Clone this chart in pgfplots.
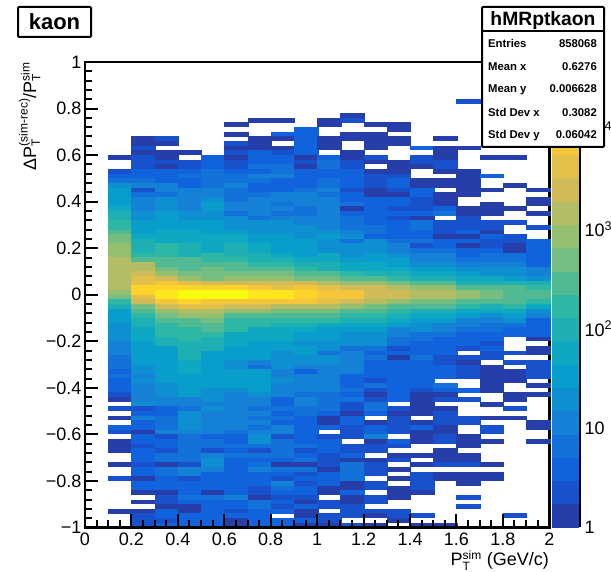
\documentclass[border=0pt]{standalone}
\usepackage{fontspec}
\setmainfont{Liberation Sans}
\usepackage{pgfplots}
\usepackage{pgfplotstable}
\pgfplotsset{compat=1.18}
% one line per PT bin (x centre), then counts for the 100 DeltaPT/PT bins from the top (0.99) to the bottom (-0.99)
\pgfplotstableread[header=false]{
0.15 0 0 0 0 0 0 0 0 0 0  0 0 0 0 0 0 0 0 0 0  1 0 0 2 4 6 17 30 30 30  30 50 90 90 150 150 250 450 450 800  800 800 1400 1400 1400 1400 1400 1400 1400 800  450 150 90 30 30 30 17 17 17 17  10 10 10 6 6 6 4 6 4 4  4 2 1 0 2 0 1 0 4 2  0 1 1 1 0 0 1 0 0 2  0 0 0 0 0 0 1 0 0 0
0.25 0 0 0 0 0 0 0 0 0 0  0 0 0 0 0 0 1 1 2 1  2 2 2 4 4 6 10 2 6 10  10 10 17 17 30 30 30 50 90 90  90 150 250 1400 1400 2400 4200 4200 13000 13000  4200 2400 450 250 150 90 90 50 50 50  30 30 30 30 30 17 17 10 17 10  10 10 10 17 2 4 10 4 4 1  4 4 2 4 4 4 2 4 4 1  4 4 1 0 1 0 1 2 2 2
0.35 0 0 0 0 0 0 0 0 0 0  0 0 0 0 0 0 2 1 0 1  1 2 1 4 4 4 10 10 6 17  17 17 30 30 30 30 50 50 50 150  150 150 250 250 450 800 2400 7500 13000 22000  22000 7500 2400 800 450 250 150 150 150 90  90 30 30 30 30 30 30 30 30 17  17 17 10 10 4 4 6 6 6 10  2 4 4 2 6 6 1 6 6 4  4 4 1 2 2 1 4 4 2 4
0.45 0 0 0 0 0 0 0 0 0 0  0 0 0 0 0 0 0 0 0 1  0 2 2 4 6 4 4 10 10 10  10 10 17 17 30 30 50 50 50 90  90 90 250 250 250 450 800 4200 13000 40000  40000 13000 4200 1400 800 250 250 150 150 150  90 90 90 90 50 50 50 30 30 30  30 30 10 10 6 17 17 17 17 10  6 6 6 6 6 6 2 10 10 2  4 4 4 6 4 1 1 4 4 4
0.55 0 0 0 0 0 0 0 0 0 0  0 0 0 0 0 0 0 0 0 0  4 4 4 6 6 6 6 10 10 17  30 30 17 17 30 30 30 50 50 50  50 150 150 250 450 450 450 2400 13000 40000  40000 7500 4200 1400 800 450 250 250 150 90  90 90 30 30 30 30 30 30 30 30  17 17 17 10 17 10 10 10 10 10  4 6 6 2 10 17 17 10 4 4  4 4 1 6 4 4 4 4 4 4
0.65 0 0 0 0 0 0 0 0 0 0  0 0 0 1 0 1 0 2 1 2  1 2 2 4 6 6 10 6 6 6  10 10 6 17 17 17 30 50 50 90  90 90 150 250 250 450 800 2400 13000 40000  40000 7500 2400 800 250 150 150 150 50 50  50 30 30 30 17 17 30 30 30 30  17 10 10 10 10 10 10 10 10 6  4 4 6 4 6 4 4 4 4 4  4 4 4 10 4 4 2 4 1 1
0.75 0 0 0 0 0 0 0 0 0 0  0 0 1 0 0 0 1 1 1 4  4 4 6 4 10 6 4 4 6 10  10 10 10 6 17 17 17 30 30 50  50 90 90 150 250 450 800 2400 7500 22000  22000 7500 2400 800 250 150 150 50 50 50  30 30 30 30 10 6 30 30 30 30  30 17 10 10 6 10 6 10 6 10  17 17 6 2 6 4 6 10 4 4  4 2 2 1 6 6 4 4 4 4
0.85 0 0 0 0 0 0 0 0 0 0  0 0 1 0 0 4 1 0 1 2  4 4 6 6 10 4 4 4 10 10  6 10 6 10 17 17 17 30 30 30  30 50 90 150 250 450 800 2400 4200 22000  22000 7500 1400 450 250 150 90 50 50 50  30 30 17 17 17 17 10 10 17 10  10 10 4 4 6 4 6 4 10 10  2 6 6 6 6 4 1 6 4 2  10 6 4 2 4 2 4 0 4 4
0.95 0 0 0 0 0 0 0 0 0 0  0 0 0 0 4 4 4 4 4 4  1 2 1 4 4 4 4 6 10 10  10 6 6 10 10 17 17 17 30 30  30 30 50 90 150 250 450 2400 7500 13000  13000 7500 1400 450 250 150 90 50 30 30  17 30 30 17 17 10 4 10 10 10  10 6 10 10 6 6 4 4 4 4  4 4 6 2 4 6 1 6 2 4  2 4 4 2 1 4 1 1 4 1
1.05 0 0 0 0 0 0 0 0 0 0  0 0 1 1 0 0 1 1 1 0  4 6 6 4 4 6 6 10 6 10  10 10 10 10 10 10 17 30 17 17  17 50 50 90 90 250 450 1400 4200 7500  7500 4200 1400 450 250 150 50 30 30 30  17 17 6 17 17 10 10 10 10 10  10 6 6 6 6 4 1 1 4 0  2 4 4 4 2 2 2 1 4 4  4 1 1 0 2 2 0 2 2 1
1.15 0 0 0 0 0 0 0 0 0 0  0 1 2 0 0 1 1 0 0 1  1 2 2 4 4 4 4 2 4 4  6 1 4 6 6 6 10 17 6 17  17 17 30 50 50 150 250 800 2400 7500  7500 2400 800 250 150 90 50 30 17 17  17 6 10 10 10 10 10 4 4 4  6 4 6 2 2 1 4 4 2 2  2 0 2 2 4 1 6 6 6 6  1 1 4 1 1 2 2 2 0 2
1.25 0 0 0 0 0 0 0 0 0 0  0 0 0 1 0 1 1 1 1 0  2 1 0 1 2 2 2 1 1 4  4 4 4 4 4 6 6 4 17 17  17 30 30 50 50 90 250 800 2400 2400  2400 1400 450 250 150 90 50 30 17 17  17 6 4 6 4 4 4 4 2 6  2 1 2 6 6 4 0 1 4 4  10 1 2 2 0 1 2 2 2 0  2 2 0 2 2 0 2 1 0 1
1.35 0 0 0 0 0 0 0 0 0 0  0 0 0 1 1 0 1 1 0 0  0 1 1 1 2 4 4 2 1 4  4 2 4 2 4 4 4 4 6 10  10 17 30 30 50 90 150 450 1400 2400  2400 800 250 150 90 50 30 10 10 6  6 2 4 1 4 4 4 4 4 4  4 4 4 0 2 1 2 2 2 2  0 4 2 0 1 2 0 1 0 1  0 1 1 1 0 0 2 2 1 0
1.45 0 0 0 0 0 0 0 0 0 0  0 0 0 0 0 0 0 0 4 0  2 2 1 0 0 1 1 4 4 2  2 2 4 1 6 6 4 4 6 2  6 10 10 17 30 50 90 250 800 1400  1400 450 250 90 50 30 17 17 6 6  4 4 4 6 4 4 4 4 4 4  2 1 1 1 1 1 0 1 4 1  1 1 0 0 1 0 1 0 2 2  2 2 1 0 0 0 0 2 0 1
1.55 0 0 0 0 0 0 0 0 0 0  0 0 0 0 0 0 1 0 1 1  1 2 2 1 0 1 1 0 1 1  1 4 6 0 2 2 2 1 4 4  6 10 10 17 30 50 90 250 800 1400  1400 450 250 90 50 30 10 10 6 4  4 4 4 2 2 4 4 4 0 6  4 1 2 0 1 2 2 2 1 1  2 2 0 1 1 1 2 0 1 1  0 0 0 0 0 0 0 0 0 1
1.65 0 0 0 0 0 0 0 0 2 0  0 0 0 0 0 0 0 0 1 0  0 0 0 1 1 1 1 1 1 0  0 1 1 2 2 2 4 1 4 1  4 4 6 10 17 30 50 90 250 800  800 250 150 50 30 10 10 6 4 4  4 2 0 2 1 2 2 2 0 0  4 0 2 0 0 0 2 2 0 0  1 1 1 0 1 1 2 0 1 1  1 0 0 2 0 2 0 0 0 0
1.75 0 0 0 0 0 0 0 0 0 0  0 0 0 0 0 0 0 0 0 0  1 0 0 0 4 0 0 1 0 0  1 1 1 0 2 2 1 4 2 2  4 6 6 10 17 17 50 90 250 450  450 250 90 50 17 10 6 6 4 4  2 4 2 2 0 1 1 1 1 1  1 0 0 1 0 0 1 0 2 2  0 1 0 0 0 0 1 0 1 1  0 0 0 0 0 0 0 0 0 0
1.85 0 0 0 0 0 0 0 0 0 0  0 0 0 0 0 0 0 0 0 0  1 0 0 0 0 0 1 0 0 0  0 1 0 0 2 0 0 2 2 1  1 6 6 10 17 17 30 90 250 250  250 250 150 50 30 17 6 4 4 0  0 0 2 0 2 0 1 1 1 0  0 1 1 0 2 0 1 0 0 0  0 0 0 0 0 0 0 0 0 0  0 0 0 0 0 0 0 2 0 0
1.95 0 0 0 0 0 0 0 0 0 0  0 0 0 0 0 0 0 0 0 0  0 0 0 0 0 0 0 1 0 1  1 0 1 0 0 2 0 0 4 4  4 4 4 4 10 10 17 90 150 250  250 150 50 17 10 4 4 4 4 1  0 1 1 0 2 2 2 2 0 1  0 1 0 0 0 0 0 1 1 0  0 1 0 0 0 0 0 0 0 0  0 0 0 0 0 0 0 0 0 0
}\hdata
\pgfplotstableread{
y
0.117
0.351
0.585
0.819
1.053
1.287
1.521
1.755
1.989
2.223
2.457
2.691
2.925
3.159
3.393
3.627
3.861
4.095
4.329
4.563
}\zbands
\pgfdeclareplotmark{cell}{\pgfpathrectangle{\pgfpoint{-11.6pt}{-2.37pt}}{\pgfpoint{24.6pt}{4.74pt}}\pgfusepathqfill}
\pgfdeclareplotmark{band}{\pgfpathrectangle{\pgfpoint{-13.8pt}{-11.75pt}}{\pgfpoint{27.0pt}{23.5pt}}\pgfusepathqfill}
\pgfplotsset{
  colormap={bird20}{rgb255=(38,62,169) rgb255=(23,82,204) rgb255=(16,99,220) rgb255=(18,114,217) rgb255=(20,129,214)
    rgb255=(14,143,209) rgb255=(9,157,204) rgb255=(14,168,194) rgb255=(30,175,179) rgb255=(46,183,164)
    rgb255=(82,186,146) rgb255=(117,189,128) rgb255=(150,190,113) rgb255=(179,189,101) rgb255=(209,187,89)
    rgb255=(227,192,73) rgb255=(245,197,58) rgb255=(253,210,43) rgb255=(251,231,28) rgb255=(249,251,14)},
  colormap access=piecewise constant,
  point meta min=0, point meta max=4.68,
  every tick label/.append style={font=\fontsize{18}{20}\selectfont},
}
\newcommand\sst[2]{$^{\mbox{\fontsize{12}{12}\selectfont #1}}_{\mbox{\fontsize{12}{12}\selectfont #2}}$}
\begin{document}
\begin{tikzpicture}[x=1pt,y=1pt]
\useasboundingbox (0,0) rectangle (611,572);
% plot: frame under the cells
\begin{axis}[at={(85pt,44.5pt)},anchor=south west,width=464.3pt,height=465.5pt,scale only axis,
  xmin=0,xmax=2,ymin=-1,ymax=1,xtick=\empty,ytick=\empty,clip=false,axis line style={line width=2.4pt}]
\pgfplotsinvokeforeach{9,...,100}{
  \addplot[forget plot,scatter,only marks,mark=cell,point meta=explicit,
    scatter/use mapped color={draw=none,fill=mapped color},unbounded coords=discard]
    table[x index=0,y expr={\thisrow{#1}>0 ? 1.01-0.02*#1 : nan},meta expr={log10(max(\thisrow{#1},1))}] {\hdata};
}
\end{axis}
% ticks, left and bottom lines over the cells
\begin{axis}[at={(85pt,44.5pt)},anchor=south west,width=464.3pt,height=465.5pt,scale only axis,
  xmin=0,xmax=2,ymin=-1,ymax=1,
  axis x line*=bottom,axis y line*=left,axis line style={-,line width=2.4pt},
  tick align=inside,major tick length=13pt,minor tick length=7pt,
  tick style={black,line width=2pt},
  xtick={0,0.2,0.4,0.6,0.8,1,1.2,1.4,1.6,1.8,2},xticklabels={0,0.2,0.4,0.6,0.8,1,1.2,1.4,1.6,1.8,2},
  ytick={-1,-0.8,-0.6,-0.4,-0.2,0,0.2,0.4,0.6,0.8,1},yticklabels={−1,−0.8,−0.6,−0.4,−0.2,0,0.2,0.4,0.6,0.8,1},
  minor x tick num=3,minor y tick num=4,
  xticklabel style={inner sep=0pt,yshift=-5pt},yticklabel style={inner sep=0pt,xshift=-3.5pt},
  ]
\addplot[draw=none,forget plot] coordinates {(0,0)};
\end{axis}
% palette
\begin{axis}[at={(551.7pt,44.5pt)},anchor=south west,width=27.6pt,height=465.5pt,scale only axis,
  xmin=0,xmax=1,ymin=0,ymax=4.68,clip=false,axis on top,
  axis x line=none,axis y line*=right,axis line style={-,line width=2.4pt},
  tick align=inside,major tick length=15pt,minor tick length=7pt,tick style={black,line width=2pt},
  ytick={0,1,2,3,4},yticklabels={1,10,10\textsuperscript{2},10\textsuperscript{3},10\textsuperscript{4}},
  minor ytick={0.301,0.477,0.602,0.699,0.778,0.845,0.903,0.954,1.301,1.477,1.602,1.699,1.778,1.845,1.903,1.954,2.301,2.477,2.602,2.699,2.778,2.845,2.903,2.954,3.301,3.477,3.602,3.699,3.778,3.845,3.903,3.954,4.301,4.477,4.602},
  yticklabel style={inner sep=0pt,xshift=5pt}]
\addplot[forget plot,scatter,only marks,mark=band,point meta=y,
  scatter/use mapped color={draw=none,fill=mapped color}] table[x expr=0.5,y=y] {\zbands};
\end{axis}
% texts and boxes
\node[anchor=base east,inner sep=0pt,font=\fontsize{18}{20}\selectfont] at (549,6) {P\sst{sim}{T} (GeV/c)};
\node[anchor=base east,inner sep=0pt,rotate=90,font=\fontsize{18}{20}\selectfont] at (36,510) {ΔP\sst{(sim-rec)}{T}/P\sst{sim}{T}};
\draw[line width=2pt,fill=white,rounded corners=1pt] (18,535) rectangle (91,565);
\node[inner sep=0pt,anchor=base,font=\fontsize{22}{24}\selectfont\bfseries] at (54.5,542) {kaon};
\draw[line width=2pt,fill=white,rounded corners=1pt] (482,425) rectangle (604,565);
\draw[line width=2pt] (482,541) -- (604,541);
\node[inner sep=0pt,anchor=base,font=\fontsize{19.3}{21}\selectfont\bfseries] at (543,546) {hMRptkaon};
\begin{scope}[every node/.style={inner sep=0pt,font=\fontsize{11.3}{13}\selectfont\bfseries}]
\node[anchor=base west] at (488,524) {Entries};
\node[anchor=base east] at (597,524) {858068};
\node[anchor=base west] at (488,501) {Mean x};
\node[anchor=base east] at (597,501) {0.6276};
\node[anchor=base west] at (488,479) {Mean y};
\node[anchor=base east] at (597,479) {0.006628};
\node[anchor=base west] at (488,455) {Std Dev x};
\node[anchor=base east] at (597,455) {0.3082};
\node[anchor=base west] at (488,433) {Std Dev y};
\node[anchor=base east] at (597,433) {0.06042};
\end{scope}
\end{tikzpicture}
\end{document}
